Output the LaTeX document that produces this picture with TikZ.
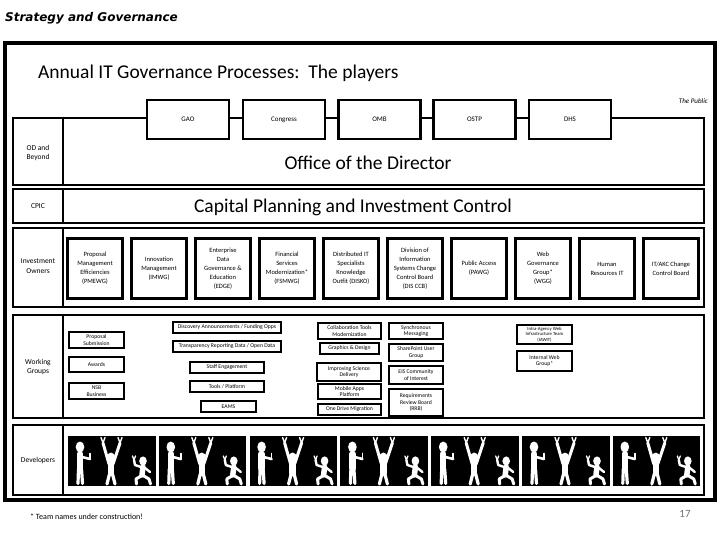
\documentclass[tikz,border=0pt]{standalone}
\usepackage{fontspec}
\setmainfont{Carlito}
\newfontfamily\titlefont{DejaVu Sans}
\newcommand\fsz[2]{\fontsize{#1}{#2}\selectfont}
\tikzset{
  outerframe/.style={line width=4.8pt},
  cont/.style={line width=2.2pt},
  topbox/.style={draw, line width=2.8pt, fill=white, minimum width=82pt, minimum height=39pt, inner sep=0pt, font=\fsz{7}{8}},
  iobox/.style={draw, line width=3.8pt, fill=white, minimum width=55pt, minimum height=60pt, inner sep=0pt, align=center, font=\fsz{6.5}{9}},
  wgbox/.style={draw, line width=2.8pt, fill=white, inner sep=0pt, align=center, font=\fsz{5.7}{6.8}},
  sidelbl/.style={align=center, inner sep=0pt, font=\fsz{7.5}{9.5}},
  biglbl/.style={inner sep=0pt, font=\fsz{19.5}{22}},
  devpanel/.pic={
    \fill[black] (0,0) rectangle (87.5,50);
    \begin{scope}[white, line cap=round, line join=round]
      % figure 1: standing, thumb up
      \fill (12,11) ellipse (4.3 and 5.5);
      \draw[line width=6.5pt] (12,18) -- (12,32);
      \draw[line width=3.2pt] (10.5,33) -- (10,47.5) (13.5,33) -- (14.5,47.5);
      \draw[line width=2.6pt] (14,21) -- (22,23);
      \draw[line width=1.7pt] (22,23) -- (22,17.5);
      % figure 2: arms raised
      \fill (43,22) ellipse (4.3 and 5.5);
      \draw[line width=6.5pt] (43,28) -- (43,37);
      \draw[line width=3pt] (41,28) -- (35,7) (45,28) -- (52,7);
      \draw[line width=1.4pt] (35,7) -- (33,1.5) (35,7) -- (37,1.5) (52,7) -- (50,1.5) (52,7) -- (54,1.5);
      \draw[line width=3.2pt] (41.5,38) -- (39,48) (44.5,38) -- (47,48);
      % figure 3: dancing
      \fill (75,25) ellipse (3.8 and 4.6);
      \draw[line width=5.5pt] (75,31) -- (74,39);
      \draw[line width=2.4pt] (73,31) -- (67,29) -- (66,24);
      \draw[line width=1.3pt] (66,24) -- (64.5,20) (66,24) -- (67.5,20);
      \draw[line width=2.4pt] (77,32) -- (82,36);
      \draw[line width=3pt] (73,40) -- (68,43) -- (68.5,48) (76,40) -- (81,43) -- (82.5,48);
    \end{scope}
  }
}
\begin{document}
\begin{tikzpicture}[x=1pt,y=-1pt]
\useasboundingbox (0,0) rectangle (720,540);
\fill[white] (0,0) rectangle (720,540);

% title
\node[anchor=west, inner sep=0pt, font=\titlefont\bfseries\itshape\fsz{12}{14}] (title) at (5,18) {Strategy and Governance};

% outer frame
\draw[outerframe] (5,43) rectangle (715,500);

\node[anchor=west, inner sep=0pt, font=\fsz{19.5}{22}] (head) at (38,73) {Annual IT Governance Processes:\ \ The players};
\node[anchor=east, inner sep=0pt, font=\itshape\fsz{7}{8}] (public) at (708,101) {The Public};

% containers
\draw[cont] (13,118) rectangle (704,185);
\draw[cont] (63,118) -- (63,185);
\draw[cont] (13,189) rectangle (704,223);
\draw[cont] (63,189) -- (63,223);
\draw[cont] (13,228) rectangle (704,307);
\draw[cont] (63,228) -- (63,307);
\draw[cont] (13,315) rectangle (704,418);
\draw[cont] (63,315) -- (63,418);
\draw[cont] (13,425) rectangle (704,495);
\draw[cont] (63,425) -- (63,495);

% top boxes
\node[topbox] (gao) at (188,119.5) {GAO};
\node[topbox] (congress) at (284,119.5) {Congress};
\node[topbox] (omb) at (379.5,119.5) {OMB};
\node[topbox] (ostp) at (474.5,119.5) {OSTP};
\node[topbox] (dhs) at (570,119.5) {DHS};

% side labels
\node[sidelbl] (lod) at (38,153) {OD and\\Beyond};
\node[sidelbl] (lcpic) at (38,206) {CPIC};
\node[sidelbl] (lio) at (38,266) {Investment\\Owners};
\node[sidelbl] (lwg) at (38,367) {Working\\Groups};
\node[sidelbl] (ldev) at (38,460) {Developers};

\node[biglbl] (od) at (368,163) {Office of the Director};
\node[biglbl] (cpic) at (353,207) {Capital Planning and Investment Control};

% investment owner boxes
\node[iobox] (io1) at (95,268.5) {Proposal\\Management\\Efficiencies\\(PMEWG)};
\node[iobox] (io2) at (159,268.5) {Innovation\\Management\\(IMWG)};
\node[iobox] (io3) at (223,268.5) {Enterprise\\Data\\Governance \&\\Education\\(EDGE)};
\node[iobox] (io4) at (287,268.5) {Financial\\Services\\Modernization*\\(FSMWG)};
\node[iobox] (io5) at (351,268.5) {Distributed IT\\Specialists\\Knowledge\\Outfit (DISKO)};
\node[iobox] (io6) at (415,268.5) {Division of\\Information\\Systems Change\\Control Board\\(DIS CCB)};
\node[iobox] (io7) at (479,268.5) {Public Access\\(PAWG)};
\node[iobox] (io8) at (543,268.5) {Web\\Governance\\Group*\\(WGG)};
\node[iobox] (io9) at (607,268.5) {Human\\Resources IT};
\node[iobox] (io10) at (671,268.5) {IT/AKC Change\\Control Board};

% working group boxes, column 1
\node[wgbox, minimum width=55pt, minimum height=16pt] (w1) at (96.5,340) {Proposal\\Submission};
\node[wgbox, minimum width=55pt, minimum height=15pt] (w2) at (96.5,364.5) {Awards};
\node[wgbox, minimum width=55pt, minimum height=16pt] (w3) at (96.5,391) {NSB\\Business};
% column 2
\node[wgbox, minimum width=108pt, minimum height=11pt] (w4) at (227,327.5) {Discovery Announcements / Funding Opps};
\node[wgbox, minimum width=108pt, minimum height=11pt] (w5) at (227,346.5) {Transparency Reporting Data / Open Data};
\node[wgbox, minimum width=74pt, minimum height=11pt] (w6) at (227,367.5) {Staff Engagement};
\node[wgbox, minimum width=74pt, minimum height=11pt] (w7) at (227,386.5) {Tools / Platform};
\node[wgbox, minimum width=55pt, minimum height=11pt] (w8) at (228.5,406.5) {EAMS};
% column 3
\node[wgbox, minimum width=63pt, minimum height=16pt] (w9) at (349.5,331) {Collaboration Tools\\Modernization};
\node[wgbox, minimum width=59pt, minimum height=11pt] (w10) at (349.5,348.5) {Graphics \& Design};
\node[wgbox, minimum width=64pt, minimum height=18pt] (w11) at (349,372) {Improving Science\\Delivery};
\node[wgbox, minimum width=63pt, minimum height=15pt] (w12) at (349.5,391.5) {Mobile Apps\\Platform};
\node[wgbox, minimum width=63pt, minimum height=11pt] (w13) at (349.5,409.5) {One Drive Migration};
% column 4
\node[wgbox, minimum width=54pt, minimum height=16pt] (w14) at (416,331) {Synchronous\\Messaging};
\node[wgbox, minimum width=54pt, minimum height=17pt] (w15) at (416,352.5) {SharePoint User\\Group};
\node[wgbox, minimum width=54pt, minimum height=18pt] (w16) at (416,375) {EIS Community\\of Interest};
\node[wgbox, minimum width=54pt, minimum height=27pt] (w17) at (416,402.5) {Requirements\\Review Board\\(RRB)};
% column 5
\node[wgbox, minimum width=55pt, minimum height=19pt, font=\fsz{4.7}{5.6}] (w18) at (544.5,334.5) {Intra-Agency Web\\Infrastructure Team\\(IAWIT)};
\node[wgbox, minimum width=55pt, minimum height=20pt] (w19) at (544.5,361) {Internal Web\\Group*};

% developers
\foreach \i in {0,...,6} {
  \pic at ({68+90.8*\i},436) {devpanel};
}

% footer
\node[anchor=west, inner sep=0pt, font=\fsz{8}{9}] (foot) at (30,517) {* Team names under construction!};
\node[inner sep=0pt, text=black!55, font=\fsz{11}{12}] (pgno) at (685,514) {17};
\end{tikzpicture}
\end{document}
